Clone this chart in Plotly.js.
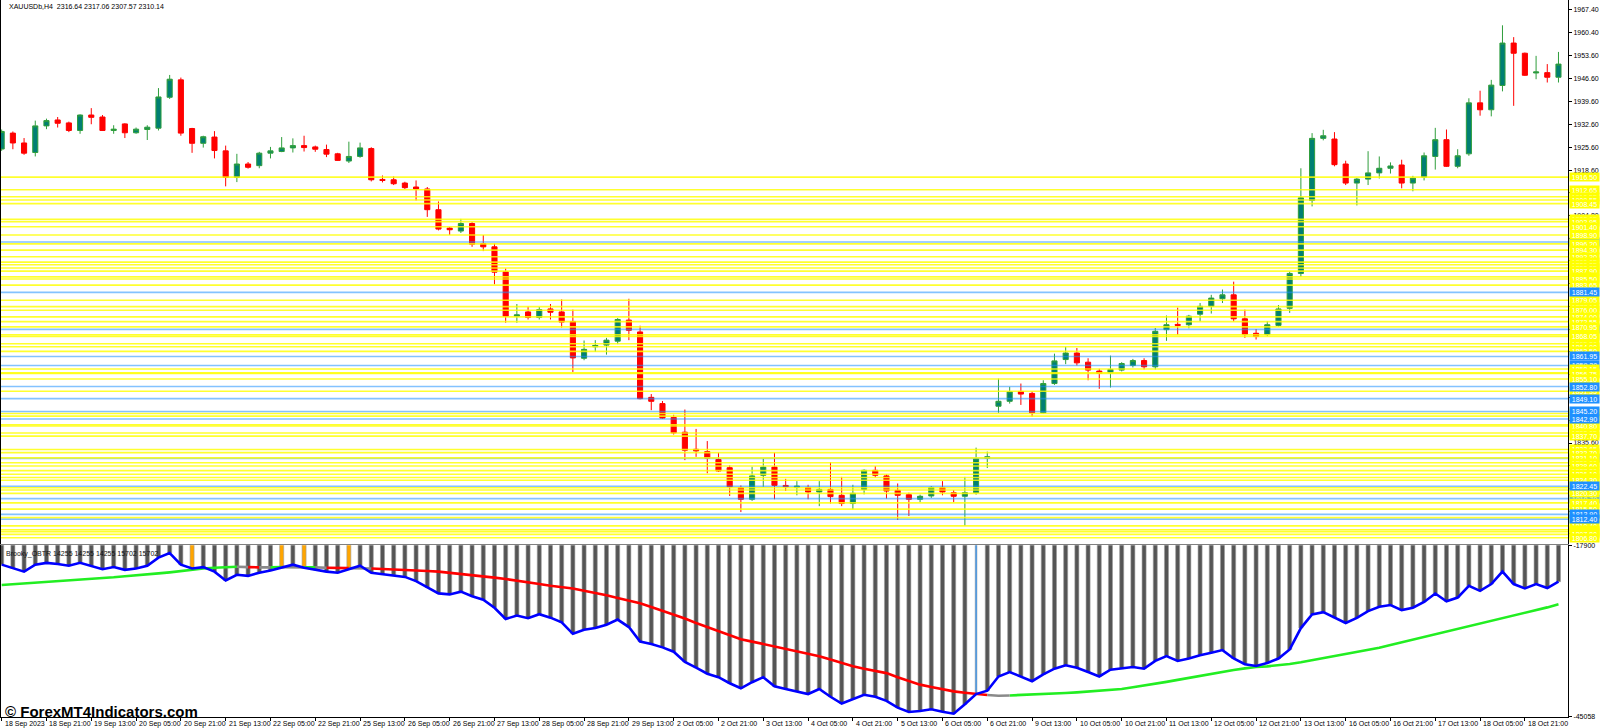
<!DOCTYPE html>
<html>
<head>
<meta charset="utf-8">
<script src="https://cdn.plot.ly/plotly-3.0.1.min.js"></script>
<style>
  html, body { margin: 0; padding: 0; background: #fff; }
  #chart { width: 1600px; height: 728px; }
</style>
</head>
<body>
<div id="chart"></div>
<script>
// header texts
const symbolHeader = 'XAUUSDb,H4  2316.64 2317.06 2307.57 2310.14';
const indicatorHeader = 'Brooky_OBTR 14255 14255 14255 15702 15702';
const watermark = '\u00a9 ForexMT4Indicators.com';

// time axis labels, one every 4 bars (H4)
const timeLabels = [
    '18 Sep 2023', '18 Sep 21:00', '19 Sep 13:00', '20 Sep 05:00', '20 Sep 21:00', '21 Sep 13:00',
    '22 Sep 05:00', '22 Sep 21:00', '25 Sep 13:00', '26 Sep 05:00', '26 Sep 21:00', '27 Sep 13:00',
    '28 Sep 05:00', '28 Sep 21:00', '29 Sep 13:00', '2 Oct 05:00', '2 Oct 21:00', '3 Oct 13:00',
    '4 Oct 05:00', '4 Oct 21:00', '5 Oct 13:00', '6 Oct 05:00', '6 Oct 21:00', '9 Oct 13:00',
    '10 Oct 05:00', '10 Oct 21:00', '11 Oct 13:00', '12 Oct 05:00', '12 Oct 21:00', '13 Oct 13:00',
    '16 Oct 05:00', '16 Oct 21:00', '17 Oct 13:00', '18 Oct 05:00', '18 Oct 21:00'
];
const barsPerLabel = 4;

// OHLC
const opens = [
    1925.05, 1929.9, 1926.9, 1924.0, 1932.1, 1933.9, 1933.0, 1930.7, 1935.4, 1934.8,
    1930.7, 1932.7, 1930.0, 1931.0, 1931.4, 1940.8, 1946.1, 1931.3, 1926.8, 1928.7,
    1924.5, 1916.4, 1920.5, 1920.0, 1923.8, 1924.3, 1925.4, 1926.1, 1925.7, 1924.9,
    1923.6, 1921.4, 1922.8, 1925.2, 1915.8, 1915.7, 1914.7, 1913.5, 1912.9, 1906.6,
    1901.0, 1900.1, 1902.4, 1896.3, 1895.3, 1887.7, 1874.2, 1875.5, 1873.8, 1876.4,
    1875.5, 1872.6, 1861.4, 1864.9, 1865.4, 1866.6, 1873.0, 1869.4, 1849.5, 1847.6,
    1843.4, 1838.9, 1833.7, 1833.0, 1830.6, 1828.1, 1822.0, 1818.5, 1825.8, 1828.3,
    1822.7, 1822.1, 1822.1, 1820.7, 1821.5, 1819.7, 1817.2, 1821.5, 1827.3, 1825.6,
    1821.2, 1819.9, 1818.5, 1819.5, 1822.1, 1820.5, 1819.4, 1820.5, 1831.0, 1846.8,
    1848.3, 1851.3, 1850.7, 1844.8, 1853.7, 1861.0, 1863.0, 1860.2, 1857.5, 1857.0,
    1857.8, 1859.2, 1860.7, 1858.8, 1870.1, 1871.7, 1871.6, 1874.8, 1877.2, 1879.5,
    1880.7, 1873.4, 1869.0, 1868.6, 1871.4, 1876.6, 1887.2, 1909.4, 1928.3, 1928.1,
    1920.5, 1914.7, 1915.9, 1917.8, 1919.2, 1920.2, 1914.7, 1916.5, 1922.8, 1927.9,
    1919.8, 1923.6, 1939.1, 1937.0, 1944.4, 1957.3, 1954.2, 1948.2, 1948.3, 1946.9
];
const highs = [
    1931.0, 1930.4, 1928.4, 1933.7, 1934.3, 1934.8, 1933.4, 1935.6, 1937.5, 1935.4,
    1932.3, 1932.9, 1931.6, 1932.3, 1943.6, 1947.6, 1946.8, 1931.5, 1929.1, 1930.5,
    1926.1, 1923.6, 1921.1, 1924.2, 1925.7, 1928.7, 1928.3, 1929.1, 1926.1, 1926.4,
    1923.9, 1927.3, 1927.0, 1925.6, 1917.0, 1916.7, 1915.1, 1915.5, 1913.5, 1909.1,
    1901.3, 1903.8, 1902.8, 1898.9, 1896.3, 1888.7, 1877.9, 1877.1, 1877.0, 1877.9,
    1879.3, 1876.2, 1866.8, 1866.9, 1867.6, 1873.6, 1879.5, 1871.3, 1850.5, 1848.4,
    1844.2, 1845.8, 1839.9, 1836.2, 1832.7, 1828.8, 1822.7, 1828.4, 1830.8, 1832.7,
    1824.7, 1824.0, 1822.9, 1824.0, 1829.8, 1825.3, 1822.9, 1827.6, 1828.6, 1826.1,
    1823.3, 1820.5, 1819.9, 1822.5, 1824.0, 1821.3, 1825.3, 1834.2, 1833.0, 1855.2,
    1852.7, 1853.7, 1851.3, 1854.7, 1862.8, 1864.9, 1864.5, 1861.4, 1858.2, 1862.2,
    1860.2, 1861.2, 1861.4, 1870.6, 1874.4, 1876.8, 1874.6, 1878.2, 1880.7, 1882.3,
    1884.7, 1876.2, 1870.3, 1872.7, 1877.6, 1887.8, 1919.2, 1929.9, 1930.9, 1930.2,
    1921.5, 1916.2, 1924.4, 1922.8, 1921.0, 1921.8, 1916.9, 1924.0, 1931.5, 1931.0,
    1925.0, 1940.5, 1942.8, 1946.1, 1962.7, 1959.1, 1954.4, 1953.4, 1950.9, 1954.6
];
const lows = [
    1924.5, 1925.0, 1923.3, 1922.8, 1931.1, 1931.6, 1930.2, 1929.7, 1932.6, 1930.6,
    1929.7, 1928.4, 1929.7, 1927.8, 1930.7, 1940.3, 1929.1, 1923.9, 1925.5, 1922.2,
    1913.7, 1915.0, 1919.1, 1919.2, 1922.2, 1924.1, 1924.0, 1924.3, 1924.2, 1922.6,
    1921.5, 1920.8, 1922.4, 1915.2, 1914.9, 1914.1, 1912.9, 1909.4, 1904.4, 1900.3,
    1898.9, 1899.5, 1895.3, 1894.0, 1883.9, 1872.2, 1872.2, 1873.2, 1873.2, 1873.2,
    1870.7, 1857.2, 1860.8, 1863.3, 1862.5, 1865.7, 1866.9, 1848.9, 1845.6, 1843.0,
    1838.2, 1830.4, 1831.4, 1826.4, 1826.8, 1819.5, 1814.6, 1818.0, 1822.3, 1818.5,
    1821.0, 1819.7, 1818.5, 1816.4, 1817.2, 1816.4, 1815.4, 1820.0, 1825.1, 1818.7,
    1812.2, 1813.4, 1817.6, 1818.9, 1819.7, 1817.6, 1810.4, 1819.9, 1828.0, 1844.8,
    1847.6, 1847.2, 1843.6, 1844.6, 1853.3, 1859.6, 1859.2, 1854.7, 1852.1, 1852.5,
    1857.4, 1858.6, 1858.0, 1858.0, 1866.7, 1868.5, 1870.5, 1872.6, 1875.0, 1878.2,
    1872.6, 1867.6, 1867.1, 1868.1, 1871.0, 1875.2, 1886.2, 1907.6, 1927.7, 1919.8,
    1914.1, 1907.9, 1914.1, 1916.1, 1917.6, 1913.1, 1912.2, 1915.5, 1918.8, 1919.6,
    1919.2, 1923.0, 1935.2, 1935.0, 1942.6, 1938.2, 1947.3, 1946.3, 1945.3, 1945.3
];
const closes = [
    1930.4, 1926.9, 1923.8, 1932.1, 1933.7, 1932.9, 1930.7, 1935.4, 1934.7, 1930.7,
    1931.1, 1930.0, 1931.1, 1931.7, 1940.9, 1946.3, 1929.9, 1926.8, 1928.8, 1924.6,
    1916.4, 1920.5, 1919.5, 1923.8, 1924.5, 1925.4, 1926.1, 1925.5, 1925.0, 1923.5,
    1921.6, 1922.8, 1925.4, 1915.7, 1915.5, 1914.5, 1913.3, 1912.9, 1906.6, 1900.7,
    1900.5, 1902.4, 1896.1, 1895.3, 1887.6, 1874.2, 1874.6, 1873.8, 1876.2, 1875.4,
    1872.4, 1861.5, 1864.1, 1865.3, 1866.9, 1873.2, 1869.9, 1849.1, 1848.3, 1843.2,
    1838.7, 1833.4, 1833.2, 1831.0, 1827.1, 1822.3, 1818.5, 1825.6, 1828.3, 1822.7,
    1822.3, 1822.5, 1820.7, 1821.5, 1819.3, 1817.2, 1820.3, 1827.3, 1825.8, 1821.0,
    1819.7, 1818.5, 1819.4, 1822.1, 1820.7, 1819.4, 1820.5, 1830.8, 1831.4, 1848.3,
    1851.2, 1850.5, 1844.8, 1853.7, 1860.6, 1863.0, 1860.0, 1857.8, 1856.8, 1858.0,
    1859.8, 1860.7, 1858.8, 1869.6, 1871.6, 1871.4, 1874.2, 1877.2, 1879.7, 1880.7,
    1873.4, 1868.6, 1868.0, 1871.6, 1876.4, 1887.2, 1910.2, 1928.3, 1929.1, 1920.3,
    1914.7, 1915.9, 1917.8, 1919.2, 1919.9, 1914.7, 1916.2, 1923.0, 1927.9, 1919.8,
    1923.0, 1939.1, 1937.0, 1944.5, 1957.3, 1954.2, 1947.5, 1948.5, 1946.9, 1950.9
];

// horizontal levels drawn on the price window
const yellowLevels = [
    1916.50, 1912.65, 1910.55, 1909.55, 1908.45, 1903.65, 1902.95, 1901.40, 1898.90, 1896.20,
    1894.30, 1892.30, 1890.65, 1889.85, 1888.85, 1887.90, 1886.15, 1885.50, 1883.65, 1879.05,
    1877.10, 1876.00, 1874.00, 1872.55, 1870.95, 1868.55, 1868.05, 1865.80, 1864.90, 1863.50,
    1858.15, 1857.00, 1856.75, 1855.10, 1851.35, 1844.60, 1843.80, 1841.15, 1840.80, 1838.65,
    1837.70, 1833.65, 1832.70, 1831.10, 1829.60, 1828.60, 1827.20, 1826.10, 1825.10, 1824.30,
    1822.00, 1821.30, 1820.30, 1817.40, 1815.50, 1812.90, 1810.40, 1809.20, 1808.65, 1807.80,
    1806.80
];
// blue levels whose price tag lies under the yellow tags
const blueLevelsBehind = [1896.75, 1870.20, 1859.20, 1830.95, 1818.70];
// blue levels whose price tag is on top
const blueLevels = [1881.45, 1861.95, 1852.80, 1849.10, 1845.20, 1842.90, 1822.45, 1813.90, 1812.40];

// price scale labels
const priceTicks = [
    1967.40, 1960.40, 1953.60, 1946.60, 1939.60, 1932.60, 1925.60, 1918.60, 1911.70, 1904.80,
    1897.90, 1891.00, 1884.10, 1877.20, 1870.30, 1863.40, 1856.50, 1849.50, 1842.60, 1835.60,
    1828.70, 1821.80, 1814.90, 1808.00
];

// Brooky OBTR indicator window
const oscValues = [
    -20970, -21530, -22080, -20970, -20690, -20860, -21140, -20690, -21140, -21690,
    -21360, -21800, -21580, -21140, -19860, -19140, -20970, -21580, -21360, -22080,
    -23470, -22580, -22750, -22250, -21910, -21470, -20970, -21470, -21800, -22080,
    -22250, -21690, -21140, -22250, -22470, -22630, -22910, -23580, -24570, -25520,
    -25680, -25240, -25960, -26510, -27790, -29560, -29010, -29450, -28800, -29350,
    -30100, -31910, -31260, -31000, -30460, -29660, -30840, -33140, -33510, -34050,
    -34740, -36350, -37260, -38220, -38760, -39720, -40520, -39560, -38760, -40200,
    -40630, -41000, -41430, -40630, -41860, -42930, -42240, -41540, -41860, -42500,
    -43570, -44270, -44110, -43840, -44220, -44540, -43040, -41430, -40900, -38650,
    -37950, -38650, -39400, -38330, -37420, -36880, -37260, -37950, -38650, -37580,
    -37420, -37150, -37420, -36190, -35440, -36190, -35810, -35280, -34900, -34480,
    -35810, -36720, -36990, -36510, -35810, -34370, -31000, -28860, -28480, -29390,
    -30190, -29390, -28320, -27630, -27360, -28160, -27790, -26880, -25540, -26770,
    -26180, -24310, -25110, -24040, -22060, -24040, -24740, -24040, -24680, -23670
];
const signalValues = [
    -24190, -24080, -23970, -23850, -23740, -23580, -23470, -23360, -23190, -23080,
    -22970, -22800, -22690, -22520, -22360, -22190, -21970, -21750, -21580, -21470,
    -21360, -21300, -21360, -21410, -21410, -21360, -21360, -21410, -21410, -21470,
    -21470, -21530, -21530, -21580, -21640, -21690, -21750, -21860, -21970, -22080,
    -22250, -22410, -22580, -22800, -23020, -23240, -23470, -23740, -24040, -24310,
    -24520, -24740, -25110, -25430, -25810, -26230, -26660, -27090, -27680, -28270,
    -28860, -29500, -30190, -30840, -31480, -32120, -32760, -33140, -33510, -33890,
    -34210, -34640, -35010, -35440, -35970, -36510, -37050, -37420, -37740, -38120,
    -38760, -39350, -39940, -40310, -40680, -41010, -41220, -41430, -41590, -41700,
    -41650, -41590, -41540, -41430, -41330, -41270, -41170, -41060, -40950, -40790,
    -40630, -40360, -40100, -39830, -39510, -39190, -38860, -38540, -38220, -37900,
    -37630, -37370, -37150, -37050, -36880, -36670, -36400, -36080, -35760, -35440,
    -35120, -34800, -34480, -34100, -33670, -33250, -32820, -32390, -31960, -31590,
    -31160, -30730, -30360, -29930, -29500, -29070, -28640, -28160, -27730, -27250
];
// u = rising (green), d = falling (red), f = flat (grey); one per bar
const signalTrend = (
    'uuuuuuuuuu' + 'uuuuuuuuuu' + 'uufdfuffuf' + 'ddffdddddd' + 'dddddddddd' +
    'dddddddddd' + 'dddddddddd' + 'dddddddddd' + 'dddddddddf' + 'fuuuuuuuuu' +
    'uuuuuuuuuu' + 'uuuuuuuuuu' + 'uuuuuuuuuu' + 'uuuuuuuuuu'
).split('');
const crossDownBars = [17, 25, 27, 31];
const crossUpBars = [87];
const oscRange = [-45058, -17900];

const FONT = 'Tahoma, "Liberation Sans", Arial, sans-serif';
const barIdx = opens.map((_, i) => i);
const xRange = [-0.06, 139.85];

// candles
const candles = {
    type: 'candlestick',
    x: barIdx,
    open: opens,
    high: highs,
    low: lows,
    close: closes,
    xaxis: 'x',
    yaxis: 'y',
    whiskerwidth: 0,
    increasing: { line: { color: '#2f9e3c', width: 1 }, fillcolor: '#007f73' },
    decreasing: { line: { color: '#ff0000', width: 1 }, fillcolor: '#ff0000' },
    hoverinfo: 'skip',
    showlegend: false
};

// histogram colours / widths
const histColors = barIdx.map(i => {
    if (crossUpBars.includes(i)) return '#1e90ff';
    if (crossDownBars.includes(i)) return '#ffa500';
    return '#555555';
});
const histWidths = barIdx.map(i => crossUpBars.includes(i) ? 0.15 : 0.36);

const histogram = {
    type: 'bar',
    x: barIdx,
    y: oscValues,
    width: histWidths,
    xaxis: 'x2',
    yaxis: 'y2',
    marker: { color: histColors, line: { color: '#9c9c9c', width: 0.6 } },
    hoverinfo: 'skip',
    showlegend: false
};

// signal line split into coloured runs
const trendColor = { u: '#22ee22', d: '#ff0000', f: '#8a8a8a' };
const runs = {};
Object.keys(trendColor).forEach(k => { runs[k] = { x: [], y: [], last: null }; });
for (let i = 1; i < signalValues.length; i++) {
    const r = runs[signalTrend[i]];
    if (r.last !== i - 1) {
        if (r.x.length) { r.x.push(null); r.y.push(null); }
        r.x.push(i - 1);
        r.y.push(signalValues[i - 1]);
    }
    r.x.push(i);
    r.y.push(signalValues[i]);
    r.last = i;
}
const signalTraces = Object.keys(trendColor).map(k => ({
    type: 'scatter',
    mode: 'lines',
    x: runs[k].x,
    y: runs[k].y,
    xaxis: 'x2',
    yaxis: 'y2',
    line: { color: trendColor[k], width: 2.6 },
    connectgaps: false,
    hoverinfo: 'skip',
    showlegend: false
}));

const oscLine = {
    type: 'scatter',
    mode: 'lines',
    x: barIdx,
    y: oscValues,
    xaxis: 'x2',
    yaxis: 'y2',
    line: { color: '#0000ff', width: 2.6 },
    hoverinfo: 'skip',
    showlegend: false
};

// level lines and their price tags
const shapes = [];
const annotations = [];
function addLevel(price, lineColor, tagColor) {
    shapes.push({
        type: 'line', xref: 'paper', x0: 0, x1: 1, yref: 'y', y0: price, y1: price,
        line: { color: lineColor, width: 1.6 }, layer: 'above'
    });
    annotations.push({
        xref: 'paper', x: 1, xanchor: 'left', xshift: 1,
        yref: 'y', y: price, yanchor: 'middle',
        text: price.toFixed(2), showarrow: false,
        bgcolor: tagColor, borderpad: 0, width: 29, height: 8,
        font: { family: FONT, size: 7, color: '#ffffff' }
    });
}
const BLUE_LINE = 'rgba(30,144,255,0.55)';
const YELLOW_LINE = 'rgba(255,255,0,0.82)';
blueLevelsBehind.forEach(p => addLevel(p, BLUE_LINE, '#1e90ff'));
yellowLevels.forEach(p => addLevel(p, YELLOW_LINE, '#ffff00'));
blueLevels.forEach(p => addLevel(p, BLUE_LINE, '#1e90ff'));

// time labels, left-aligned at their tick like MT4
timeLabels.forEach((t, k) => {
    annotations.push({
        xref: 'x2', x: k * barsPerLabel, xanchor: 'left', xshift: 1,
        yref: 'paper', y: 0, yanchor: 'top', yshift: -1,
        text: t, showarrow: false,
        font: { family: FONT, size: 7, color: '#000' }
    });
});

annotations.push({
    xref: 'paper', x: 0, xanchor: 'left', xshift: 6,
    yref: 'paper', y: 1, yanchor: 'top', yshift: -1,
    text: symbolHeader, showarrow: false,
    font: { family: FONT, size: 7, color: '#000' }
});
annotations.push({
    xref: 'paper', x: 0, xanchor: 'left', xshift: 3,
    yref: 'paper', y: 0.2396, yanchor: 'top', yshift: -3,
    text: indicatorHeader, showarrow: false,
    font: { family: FONT, size: 7, color: '#111' }
});
annotations.push({
    xref: 'paper', x: 0, xanchor: 'left', xshift: 2,
    yref: 'paper', y: 0, yanchor: 'bottom', yshift: -5,
    text: '<b>' + watermark + '</b>', showarrow: false,
    font: { family: '"Liberation Sans", Arial, sans-serif', size: 15, color: '#000' }
});

const layout = {
    width: 1600,
    height: 728,
    paper_bgcolor: '#ffffff',
    plot_bgcolor: '#ffffff',
    margin: { l: 1, r: 32, t: 0, b: 11 },
    showlegend: false,
    boxgap: 0.35,
    bargap: 0,
    xaxis: {
        domain: [0, 1], anchor: 'y', range: xRange,
        showticklabels: false, ticks: '', showgrid: false, zeroline: false,
        showline: true, linecolor: '#808080', linewidth: 1,
        rangeslider: { visible: false }, fixedrange: true
    },
    yaxis: {
        domain: [0.2409, 1], anchor: 'x', range: [1804.8, 1970.4], side: 'right',
        tickvals: priceTicks, ticktext: priceTicks.map(v => v.toFixed(2)),
        ticks: 'outside', ticklen: 3, tickcolor: '#000',
        tickfont: { family: FONT, size: 7, color: '#000' },
        showline: true, mirror: true, linecolor: '#000', linewidth: 1,
        showgrid: false, zeroline: false, fixedrange: true
    },
    xaxis2: {
        domain: [0, 1], anchor: 'y2', range: xRange,
        tickvals: timeLabels.map((_, k) => k * barsPerLabel), showticklabels: false,
        ticks: 'outside', ticklen: 3, tickcolor: '#000',
        showline: true, linecolor: '#000', linewidth: 1,
        showgrid: false, zeroline: false, fixedrange: true
    },
    yaxis2: {
        domain: [0, 0.2396], anchor: 'x2', range: oscRange, side: 'right',
        tickvals: [oscRange[1], oscRange[0]], ticktext: [String(oscRange[1]), String(oscRange[0])],
        ticks: 'outside', ticklen: 3, tickcolor: '#000',
        tickfont: { family: FONT, size: 7, color: '#000' },
        showline: true, mirror: true, linecolor: '#000', linewidth: 1,
        showgrid: false, zeroline: false, fixedrange: true
    },
    shapes: shapes,
    annotations: annotations
};

Plotly.newPlot('chart', [candles, histogram, ...signalTraces, oscLine], layout, {
    staticPlot: true,
    displayModeBar: false
});
</script>
</body>
</html>
